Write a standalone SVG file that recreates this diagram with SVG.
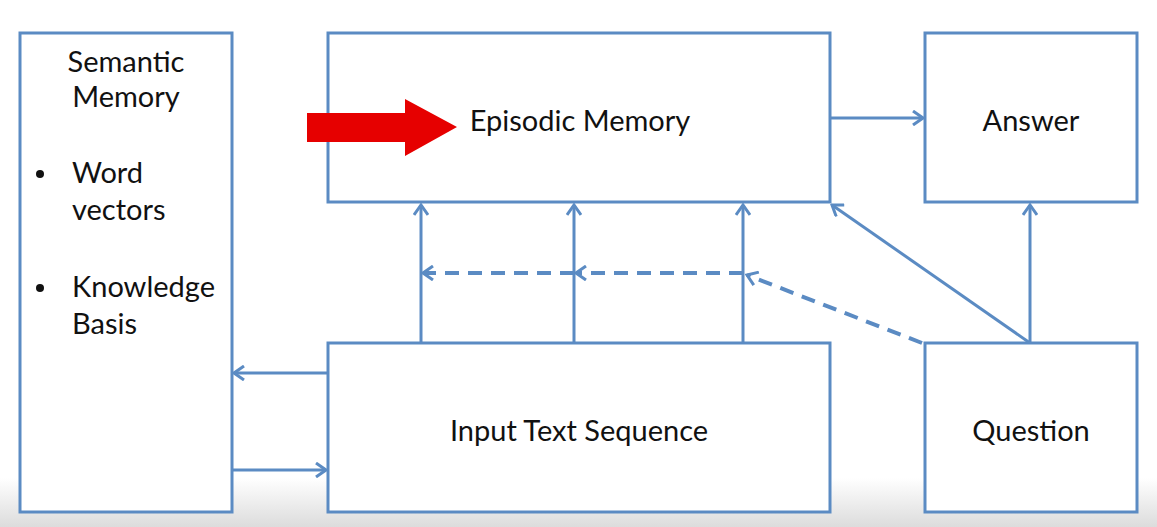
<svg xmlns="http://www.w3.org/2000/svg" width="1157" height="527" viewBox="0 0 1157 527">
<style>
.box{fill:#fff;stroke:#5b8bc3;stroke-width:3}
.ln{fill:none;stroke:#5b8bc3;stroke-width:3}
.dash{fill:none;stroke:#5b8bc3;stroke-width:4;stroke-dasharray:14 9}
.t{font-family:Lato,"Open Sans",sans-serif;font-size:29px;fill:#111}
.c{text-anchor:middle}
</style>
<defs>
<linearGradient id="bg" x1="0" y1="0" x2="0" y2="1">
<stop offset="0" stop-color="#ffffff"/>
<stop offset="1" stop-color="#dcdcdc"/>
</linearGradient>
<marker id="ah" viewBox="0 0 16 16" refX="14" refY="8" markerWidth="16" markerHeight="16" markerUnits="userSpaceOnUse" orient="auto">
<path d="M4,1 L14,8 L4,15" fill="none" stroke="#5b8bc3" stroke-width="3"/>
</marker>
</defs>
<rect x="0" y="0" width="1157" height="527" fill="#fff"/>
<rect x="0" y="478" width="1157" height="49" fill="url(#bg)"/>
<g id="connectors">
<line class="ln" x1="421" y1="343" x2="421" y2="205" marker-end="url(#ah)"/>
<line class="ln" x1="574" y1="343" x2="574" y2="205" marker-end="url(#ah)"/>
<line class="ln" x1="743" y1="343" x2="743" y2="205" marker-end="url(#ah)"/>
<line class="ln" x1="830" y1="118" x2="923" y2="118" marker-end="url(#ah)"/>
<line class="ln" x1="1030" y1="343" x2="1030" y2="205" marker-end="url(#ah)"/>
<line class="ln" x1="1030" y1="343" x2="832" y2="205" marker-end="url(#ah)"/>
<line class="ln" x1="328" y1="373" x2="234" y2="373" marker-end="url(#ah)"/>
<line class="ln" x1="232" y1="470" x2="326" y2="470" marker-end="url(#ah)"/>
<line class="dash" x1="922" y1="343" x2="747" y2="275" marker-end="url(#ah)"/>
<line class="dash" x1="743" y1="273" x2="576" y2="273" marker-end="url(#ah)"/>
<line class="dash" x1="574" y1="273" x2="423" y2="273" marker-end="url(#ah)"/>
</g>
<g id="semantic">
<rect class="box" x="20" y="33" width="212" height="479"/>
<text class="t c" x="126" y="72">Semantic</text>
<text class="t c" x="126" y="107">Memory</text>
<circle cx="40" cy="174" r="4" fill="#111"/>
<text class="t" x="72" y="183">Word</text>
<text class="t" x="72" y="220">vectors</text>
<circle cx="40" cy="288" r="4" fill="#111"/>
<text class="t" x="72" y="297">Knowledge</text>
<text class="t" x="72" y="334">Basis</text>
</g>
<g id="episodic">
<rect class="box" x="328" y="33" width="502" height="169"/>
<text class="t c" x="580" y="131">Episodic Memory</text>
</g>
<g id="answer">
<rect class="box" x="925" y="33" width="212" height="169"/>
<text class="t c" x="1031" y="131">Answer</text>
</g>
<g id="input">
<rect class="box" x="328" y="343" width="502" height="169"/>
<text class="t c" x="579" y="441">Input Text Sequence</text>
</g>
<g id="question">
<rect class="box" x="925" y="343" width="212" height="169"/>
<text class="t c" x="1031" y="441">Question</text>
</g>
<g id="pointer">
<polygon points="307,113 405,113 405,99 457,127 405,156 405,142 307,142" fill="#e60000"/>
</g>
</svg>
